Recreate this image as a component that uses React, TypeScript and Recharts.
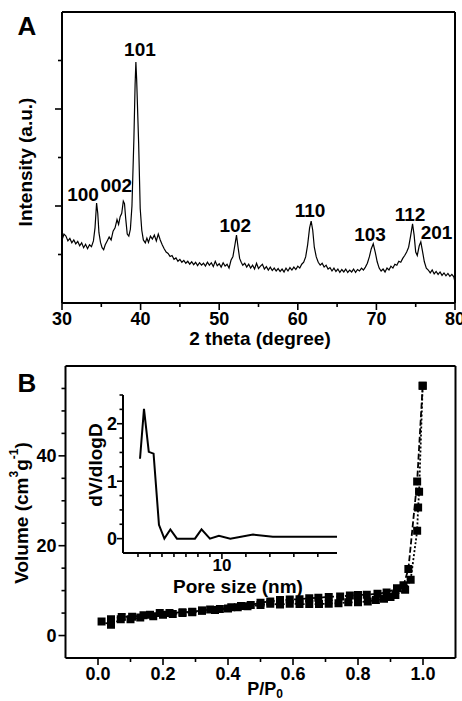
import React from "react";
import {
  LineChart, Line,
  ScatterChart, Scatter,
  XAxis, YAxis, ZAxis,
  ReferenceDot,
} from "recharts";

const FONT = "'Liberation Sans', Arial, Helvetica, sans-serif";
const W = 462;
const H = 701;

// ---- panel A: XRD scan, [2theta (deg), intensity (a.u.)]
const xrdScan: [number, number][] = [
  [30.0, 1.30], [30.25, 1.42], [30.5, 1.38], [30.75, 1.28], [31.0, 1.33], [31.25, 1.24],
  [31.5, 1.30], [31.75, 1.22], [32.0, 1.27], [32.25, 1.18], [32.5, 1.24], [32.75, 1.14],
  [33.0, 1.21], [33.25, 1.12], [33.5, 1.20], [33.75, 1.16], [34.0, 1.28], [34.2, 1.55],
  [34.4, 2.06], [34.55, 1.85], [34.7, 1.45], [34.9, 1.25], [35.1, 1.14], [35.3, 1.10],
  [35.5, 1.20], [35.75, 1.28], [36.0, 1.36], [36.25, 1.30], [36.5, 1.48], [36.75, 1.55],
  [37.0, 1.72], [37.2, 1.62], [37.4, 1.78], [37.6, 1.85], [37.8, 2.10], [37.95, 2.05],
  [38.1, 1.75], [38.3, 1.42], [38.5, 1.38], [38.7, 1.52], [38.9, 2.0], [39.15, 3.4],
  [39.3, 4.5], [39.4, 4.97], [39.5, 4.6], [39.75, 3.3], [39.95, 1.95], [40.15, 1.5],
  [40.35, 1.30], [40.6, 1.24], [40.8, 1.34], [41.0, 1.25], [41.25, 1.38], [41.5, 1.32],
  [41.75, 1.40], [42.0, 1.28], [42.25, 1.42], [42.5, 1.30], [42.75, 1.20], [43.0, 1.12],
  [43.25, 1.05], [43.5, 1.02], [43.75, 0.96], [44.0, 0.98], [44.25, 0.90], [44.5, 0.93],
  [44.75, 0.86], [45.0, 0.90], [45.25, 0.84], [45.5, 0.88], [45.75, 0.82], [46.0, 0.86],
  [46.25, 0.80], [46.5, 0.85], [46.75, 0.79], [47.0, 0.84], [47.25, 0.77], [47.5, 0.83],
  [47.75, 0.78], [48.0, 0.82], [48.25, 0.76], [48.5, 0.84], [48.75, 0.78], [49.0, 0.83],
  [49.25, 0.75], [49.5, 0.86], [49.75, 0.77], [50.0, 0.81], [50.25, 0.74], [50.5, 0.83],
  [50.75, 0.76], [51.0, 0.80], [51.25, 0.72], [51.5, 0.88], [51.75, 0.96], [52.0, 1.20],
  [52.2, 1.40], [52.4, 1.15], [52.6, 0.92], [52.8, 0.84], [53.0, 0.78], [53.25, 0.82],
  [53.5, 0.74], [53.75, 0.80], [54.0, 0.72], [54.25, 0.78], [54.5, 0.70], [54.75, 0.82],
  [55.0, 0.71], [55.25, 0.76], [55.5, 0.80], [55.75, 0.70], [56.0, 0.75], [56.25, 0.68],
  [56.5, 0.74], [56.75, 0.67], [57.0, 0.72], [57.25, 0.66], [57.5, 0.71], [57.75, 0.65],
  [58.0, 0.70], [58.25, 0.64], [58.5, 0.72], [58.75, 0.66], [59.0, 0.73], [59.25, 0.68],
  [59.5, 0.74], [59.75, 0.69], [60.0, 0.76], [60.25, 0.72], [60.5, 0.80], [60.75, 0.84],
  [61.0, 0.95], [61.25, 1.20], [61.5, 1.55], [61.7, 1.69], [61.9, 1.50], [62.1, 1.15],
  [62.35, 0.95], [62.6, 0.84], [62.85, 0.78], [63.1, 0.82], [63.35, 0.74], [63.6, 0.78],
  [63.85, 0.70], [64.1, 0.73], [64.35, 0.66], [64.6, 0.72], [64.85, 0.65], [65.1, 0.70],
  [65.35, 0.63], [65.6, 0.69], [65.85, 0.64], [66.1, 0.70], [66.35, 0.63], [66.6, 0.68],
  [66.85, 0.64], [67.1, 0.70], [67.35, 0.63], [67.6, 0.69], [67.85, 0.66], [68.1, 0.72],
  [68.35, 0.68], [68.6, 0.74], [68.85, 0.82], [69.1, 0.95], [69.35, 1.12], [69.6, 1.22],
  [69.85, 1.05], [70.1, 0.85], [70.35, 0.72], [70.6, 0.66], [70.85, 0.70], [71.1, 0.64],
  [71.35, 0.72], [71.6, 0.68], [71.85, 0.76], [72.1, 0.72], [72.35, 0.80], [72.6, 0.78],
  [72.85, 0.86], [73.1, 0.84], [73.35, 0.92], [73.6, 0.98], [73.85, 1.05], [74.1, 1.15],
  [74.35, 1.38], [74.6, 1.63], [74.8, 1.40], [75.0, 1.05], [75.2, 0.98], [75.45, 1.18],
  [75.65, 1.26], [75.85, 1.08], [76.1, 0.85], [76.35, 0.72], [76.6, 0.68], [76.85, 0.62],
  [77.1, 0.68], [77.35, 0.60], [77.6, 0.65], [77.85, 0.59], [78.1, 0.64], [78.35, 0.57],
  [78.6, 0.62], [78.85, 0.56], [79.1, 0.61], [79.35, 0.55], [79.6, 0.59], [79.85, 0.54],
  [80.0, 0.43],
];

const peakLabels = [
  { hkl: "100", angle: 32.67, y: 2.25 },
  { hkl: "002", angle: 36.9, y: 2.42 },
  { hkl: "101", angle: 39.92, y: 5.23 },
  { hkl: "102", angle: 52.05, y: 1.6 },
  { hkl: "110", angle: 61.55, y: 1.92 },
  { hkl: "103", angle: 69.19, y: 1.41 },
  { hkl: "112", angle: 74.27, y: 1.82 },
  { hkl: "201", angle: 77.65, y: 1.46 },
];

const xrdTicksX = [30, 35, 40, 45, 50, 55, 60, 65, 70, 75, 80];
const xrdTicksY = [1, 2, 3, 4, 5];

// ---- panel B: N2 isotherm, [P/P0, volume cm3/g]
const adsorption: [number, number][] = [
  [0.011, 3.1], [0.04, 2.4], [0.07, 3.6], [0.1, 3.6], [0.13, 4.0], [0.17, 4.3],
  [0.2, 4.6], [0.23, 4.8], [0.26, 5.0], [0.29, 5.2], [0.32, 5.5], [0.36, 5.7],
  [0.4, 6.0], [0.43, 6.3], [0.46, 6.5], [0.5, 6.8], [0.53, 7.1], [0.56, 6.9],
  [0.59, 7.1], [0.62, 7.0], [0.65, 7.0], [0.68, 7.0], [0.71, 7.1], [0.74, 7.2],
  [0.77, 7.4], [0.8, 7.4], [0.83, 7.6], [0.855, 7.9], [0.88, 8.2], [0.9, 8.6],
  [0.915, 9.0], [0.945, 10.2], [0.962, 12.4], [0.982, 23.3], [0.985, 28.5],
  [0.988, 32.0], [0.999, 55.6],
];

const desorption: [number, number][] = [
  [0.999, 55.6], [0.982, 34.3], [0.955, 14.8], [0.94, 11.2], [0.92, 10.5], [0.888, 9.6],
  [0.86, 9.3], [0.827, 9.1], [0.8, 9.0], [0.775, 8.9], [0.745, 8.7], [0.71, 8.6],
  [0.678, 8.4], [0.65, 8.3], [0.62, 8.1], [0.59, 8.0], [0.56, 7.9], [0.53, 7.6],
  [0.5, 7.3], [0.47, 6.8], [0.44, 6.6], [0.41, 6.3], [0.375, 5.9], [0.345, 5.8],
  [0.32, 5.6], [0.29, 5.3], [0.26, 5.2], [0.22, 5.0], [0.19, 5.0], [0.16, 4.6],
  [0.14, 4.5], [0.105, 4.2], [0.073, 4.1], [0.04, 3.6],
];

const isoTicksX = [0, 0.1, 0.2, 0.3, 0.4, 0.5, 0.6, 0.7, 0.8, 0.9, 1.0];
const isoTicksY = [0, 5, 10, 15, 20, 25, 30, 35, 40, 45, 50, 55];

// ---- inset: pore size distribution
const poreSize = [3.17, 3.5, 3.9, 4.3, 4.75, 5.2, 5.7, 6.25, 7.75, 8.3, 9.0, 9.75, 10.7, 12.6, 14.25, 19.6];
const dVdlogD = [1.39, 2.26, 1.51, 1.48, 0.24, 0.0, 0.16, 0.0, 0.0, 0.16, 0.0, 0.05, 0.0, 0.07, 0.035, 0.035];
const insetTicksX = [3, 4, 5, 6, 7, 8, 9, 10, 12, 14, 16, 18];
const insetTicksY = [0, 0.25, 0.5, 0.75, 1, 1.25, 1.5, 1.75, 2, 2.25, 2.5];

const xrdData = xrdScan.map(([a, i]) => ({ a, i }));
const adsData = adsorption.map(([p, v]) => ({ p, v }));
const desData = desorption.map(([p, v]) => ({ p, v }));
const poreData = poreSize.map((d, k) => ({ d, v: dVdlogD[k] }));

const axisLine = { stroke: "#000", strokeWidth: 2 };

type TickOpts = {
  major: (v: number) => boolean;
  label: (v: number) => string | null;
  majorLen?: number;
  minorLen?: number;
  gap?: number;
  fontSize?: number;
};

function bottomTick(o: TickOpts) {
  return (props: any) => {
    const { x, y, payload } = props;
    const v = payload.value;
    const len = o.major(v) ? o.majorLen ?? 7 : o.minorLen ?? 4;
    const text = o.label(v);
    return (
      <g>
        <line x1={x} y1={y} x2={x} y2={y + len} stroke="#000" strokeWidth={1.6} />
        {text != null && (
          <text x={x} y={y + (o.gap ?? 22)} textAnchor="middle" fontFamily={FONT} fontWeight="bold" fontSize={o.fontSize ?? 18} fill="#000">
            {text}
          </text>
        )}
      </g>
    );
  };
}

function leftTick(o: TickOpts) {
  return (props: any) => {
    const { x, y, payload } = props;
    const v = payload.value;
    const len = o.major(v) ? o.majorLen ?? 7 : o.minorLen ?? 4;
    const text = o.label(v);
    return (
      <g>
        <line x1={x - len} y1={y} x2={x} y2={y} stroke="#000" strokeWidth={1.6} />
        {text != null && (
          <text x={x - (o.gap ?? 9)} y={y} dy="0.36em" textAnchor="end" fontFamily={FONT} fontWeight="bold" fontSize={o.fontSize ?? 18} fill="#000">
            {text}
          </text>
        )}
      </g>
    );
  };
}

const layer: React.CSSProperties = { position: "absolute", left: 0, top: 0, width: W, height: H };
const txt = { fontFamily: FONT, fontWeight: "bold" as const, fill: "#000" };

export default function App() {
  return (
    <div style={{ position: "absolute", left: 0, top: 0, width: W, height: H, background: "#fff", overflow: "hidden" }}>
      {/* A: XRD pattern, plot box 62..455 x 12..303 */}
      <div style={layer}>
        <LineChart width={W} height={H} data={xrdData} margin={{ top: 11, right: 6, left: 61, bottom: H - 304 }}>
          <XAxis
            type="number" dataKey="a" domain={[30, 80]} ticks={xrdTicksX} interval={0}
            allowDataOverflow height={1} tickSize={0} tickMargin={0} tickLine={false} axisLine={axisLine}
            tick={bottomTick({ major: (v) => v % 10 === 0, label: (v) => (v % 10 === 0 ? String(v) : null) })}
          />
          <XAxis xAxisId="top" orientation="top" type="number" domain={[30, 80]} height={1} tick={false} tickLine={false} axisLine={axisLine} />
          <YAxis
            type="number" domain={[0, 6]} ticks={xrdTicksY} interval={0}
            allowDataOverflow width={1} tickSize={0} tickMargin={0} tickLine={false} axisLine={axisLine}
            tick={leftTick({ major: (v) => v % 2 === 0, label: () => null })}
          />
          <YAxis yAxisId="right" orientation="right" type="number" domain={[0, 6]} width={1} tick={false} tickLine={false} axisLine={axisLine} />
          <Line type="linear" dataKey="i" stroke="#000" strokeWidth={1.2} dot={false} isAnimationActive={false} />
          {peakLabels.map((pk) => (
            <ReferenceDot
              key={pk.hkl} x={pk.angle} y={pk.y} r={0} fill="none" stroke="none"
              label={{ value: pk.hkl, position: "center", fontFamily: FONT, fontWeight: "bold", fontSize: 19, fill: "#000" }}
            />
          ))}
        </LineChart>
      </div>

      {/* B: isotherm, plot box 65.5..455.5 x 366..658 */}
      <div style={layer}>
        <ScatterChart width={W} height={H} margin={{ top: 365, right: 5.5, left: 64.5, bottom: H - 659 }}>
          <XAxis
            type="number" dataKey="p" domain={[-0.1, 1.1]} ticks={isoTicksX} interval={0}
            allowDataOverflow height={1} tickSize={0} tickMargin={0} tickLine={false} axisLine={axisLine}
            tick={bottomTick({
              major: (v) => Math.round(v * 10) % 2 === 0,
              label: (v) => (Math.round(v * 10) % 2 === 0 ? v.toFixed(1) : null),
            })}
          />
          <XAxis xAxisId="top" orientation="top" type="number" domain={[-0.1, 1.1]} height={1} tick={false} tickLine={false} axisLine={axisLine} />
          <YAxis
            type="number" dataKey="v" domain={[-5, 60]} ticks={isoTicksY} interval={0}
            allowDataOverflow width={1} tickSize={0} tickMargin={0} tickLine={false} axisLine={axisLine}
            tick={leftTick({ major: (v) => v % 20 === 0, label: (v) => (v % 20 === 0 ? String(v) : null) })}
          />
          <YAxis yAxisId="right" orientation="right" type="number" domain={[-5, 60]} width={1} tick={false} tickLine={false} axisLine={axisLine} />
          <ZAxis range={[40, 40]} />
          <Scatter
            data={adsData} shape="square" fill="#000" lineType="joint"
            line={{ stroke: "#000", strokeWidth: 1.8, strokeDasharray: "2 2" }}
            isAnimationActive={false}
          />
          <Scatter
            data={desData} shape="square" fill="#000" lineType="joint"
            line={{ stroke: "#000", strokeWidth: 1.8, strokeDasharray: "6 2.5" }}
            isAnimationActive={false}
          />
        </ScatterChart>
      </div>

      {/* inset: pore size distribution, plot box 123..337 x 395..553 */}
      <div style={layer}>
        <LineChart width={W} height={H} data={poreData} margin={{ top: 395, right: W - 337, left: 122, bottom: H - 554 }}>
          <XAxis
            type="number" dataKey="d" domain={[1.75, 19.6]} ticks={insetTicksX} interval={0}
            allowDataOverflow height={1} tickSize={0} tickMargin={0} tickLine={false} axisLine={axisLine}
            tick={bottomTick({ major: (v) => v === 10, label: (v) => (v === 10 ? "10" : null), majorLen: 6, minorLen: 4, gap: 18, fontSize: 17 })}
          />
          <YAxis
            type="number" domain={[-0.25, 2.5]} ticks={insetTicksY} interval={0}
            allowDataOverflow width={1} tickSize={0} tickMargin={0} tickLine={false} axisLine={axisLine}
            tick={leftTick({
              major: (v) => v % 1 === 0,
              label: (v) => (v % 1 === 0 ? String(v) : null),
              majorLen: 6, minorLen: 3.5, gap: 6,
            })}
          />
          <Line type="linear" dataKey="v" stroke="#000" strokeWidth={2} dot={false} isAnimationActive={false} />
        </LineChart>
      </div>

      {/* titles */}
      <svg style={{ ...layer, pointerEvents: "none" }} width={W} height={H}>
        <text x={27} y={35} textAnchor="middle" fontSize={26} {...txt}>A</text>
        <text x={27} y={392} textAnchor="middle" fontSize={26} {...txt}>B</text>

        <text x={260} y={345} textAnchor="middle" fontSize={19} {...txt}>2 theta (degree)</text>
        <text x={25} y={162} transform="rotate(-90 25 162)" textAnchor="middle" dominantBaseline="central" fontSize={19} {...txt}>
          Intensity (a.u.)
        </text>

        <text x={265} y={695} textAnchor="middle" fontSize={18} {...txt}>
          P/P<tspan fontSize={12} dy={3}>0</tspan>
        </text>
        <text x={21} y={513} transform="rotate(-90 21 513)" textAnchor="middle" dominantBaseline="central" fontSize={19} {...txt}>
          <tspan>Volume (cm</tspan>
          <tspan fontSize={12} dy={-7}>3</tspan>
          <tspan dy={7}>g</tspan>
          <tspan fontSize={12} dy={-7}>-1</tspan>
          <tspan dy={7}>)</tspan>
        </text>

        <text x={238} y={593} textAnchor="middle" fontSize={19} {...txt}>Pore size (nm)</text>
        <text x={95} y={465} transform="rotate(-90 95 465)" textAnchor="middle" dominantBaseline="central" fontSize={19} {...txt}>
          dV/dlogD
        </text>
      </svg>
    </div>
  );
}
